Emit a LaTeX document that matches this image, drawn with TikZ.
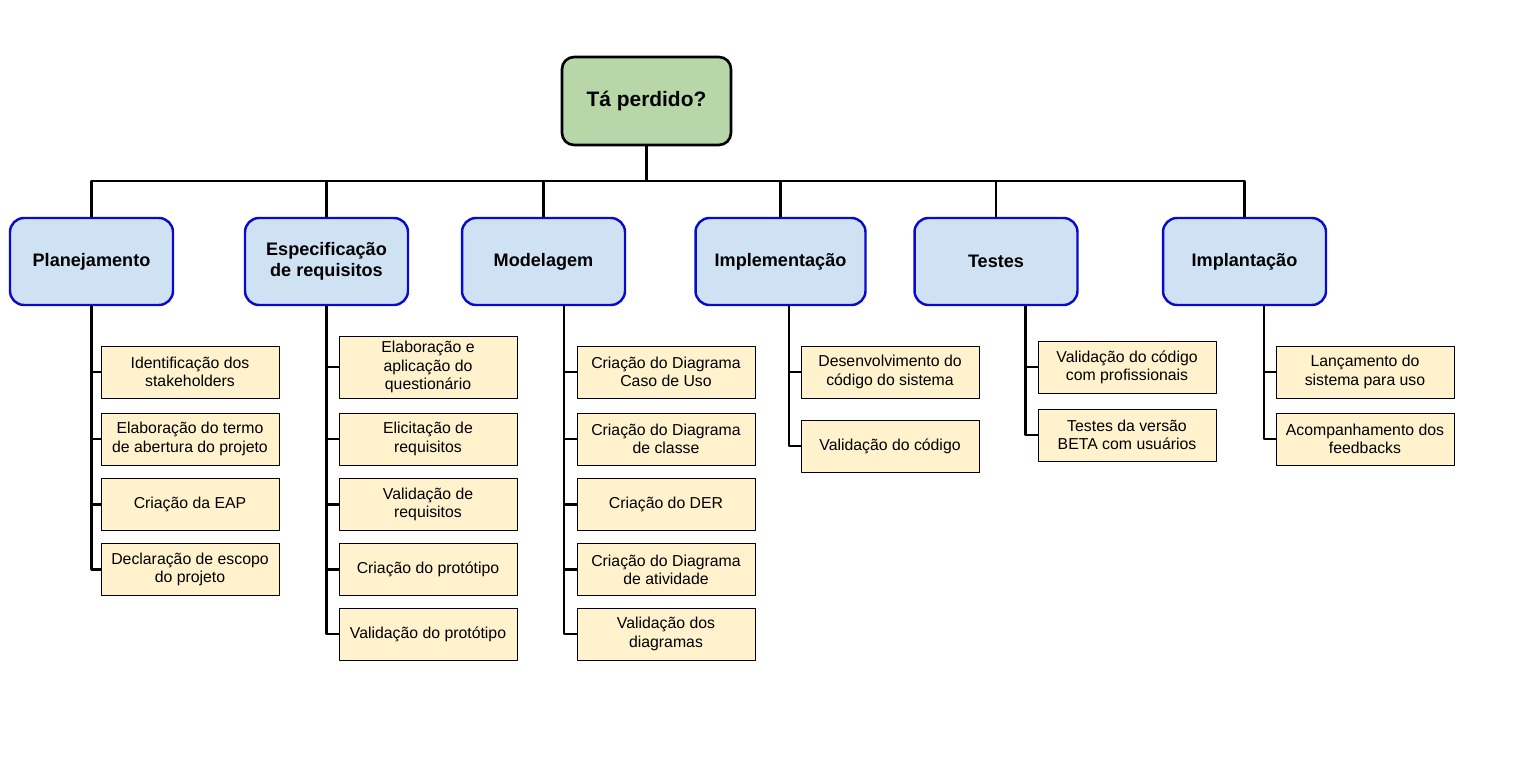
\documentclass[tikz,border=0pt]{standalone}
\usepackage{fontspec}
\setmainfont{Liberation Sans}
\definecolor{rootgreen}{HTML}{B7D7A8}
\definecolor{phasefill}{HTML}{CFE2F3}
\definecolor{phaseline}{HTML}{0A0ACC}
\definecolor{taskfill}{HTML}{FFF2CC}
\tikzset{
	rootbox/.style={draw, line width=1.5pt, rounded corners=.24cm, fill=rootgreen, minimum width=3.38cm, minimum height=1.76cm, font=\bfseries\fontsize{11.9}{14}\selectfont},
	phasebox/.style={draw=phaseline, line width=1.4pt, rounded corners=.28cm, fill=phasefill, minimum width=3.26cm, minimum height=1.74cm, align=center, font=\bfseries\fontsize{10.3}{11.6}\selectfont},
	taskbox/.style={draw, line width=.5pt, fill=taskfill, minimum width=3.56cm, minimum height=1.04cm, inner sep=1pt, align=center, font=\fontsize{9}{10.4}\selectfont},
	link/.style={line width=1.2pt},
	spine/.style={line width=1.5pt},
}
\begin{document}
\begin{tikzpicture}[x=.02cm, y=-.02cm, line join=round]
	\useasboundingbox (0,0) rectangle (1518,760);
	\node[rootbox] (root) at (646.5,101) {Tá perdido?};
	% fases
	\node[phasebox] (plan) at (91.5,261.5) {Planejamento};
	\node[phasebox] (espec) at (326.5,261.5) {Especificação\\de requisitos};
	\node[phasebox] (model) at (543.5,261.5) {Modelagem};
	\node[phasebox, minimum width=3.4cm] (impl) at (780.5,261.5) {Implementação};
	\node[phasebox] (test) at (996,261.5) {Testes};
	\node[phasebox] (impt) at (1244.5,261.5) {Implantação};
	\coordinate (bus) at (646.5,181);
	\draw[spine] (root) -- (bus);
	\foreach \p in {plan,espec,model,impl,test,impt} \draw[link] (bus) -| (\p.north);
	% atividades
	\foreach \n/\y/\t in {plan1/372/{Identificação dos\\stakeholders}, plan2/439/{Elaboração do termo\\de abertura do projeto}, plan3/504.5/{Criação da EAP}, plan4/569.5/{Declaração de escopo\\do projeto}}
		\node[taskbox] (\n) at (190,\y) {\t};
	\foreach \n/\y/\t in {espec2/439/{Elicitação de\\requisitos}, espec3/504.5/{Validação de\\requisitos}, espec4/569.5/{Criação do protótipo}, espec5/634/{Validação do protótipo}}
		\node[taskbox] (\n) at (428,\y) {\t};
	\node[taskbox, minimum height=1.24cm] (espec1) at (428,367) {Elaboração e\\aplicação do\\questionário};
	\foreach \n/\y/\t in {model1/372/{Criação do Diagrama\\Caso de Uso}, model2/439/{Criação do Diagrama\\de classe}, model3/504.5/{Criação do DER}, model4/569.5/{Criação do Diagrama\\de atividade}, model5/634/{Validação dos\\diagramas}}
		\node[taskbox] (\n) at (666,\y) {\t};
	\foreach \n/\y/\t in {impl1/372/{Desenvolvimento do\\código do sistema}, impl2/446/{Validação do código}}
		\node[taskbox] (\n) at (890,\y) {\t};
	\foreach \n/\y/\t in {test1/367/{Validação do código\\com profissionais}, test2/435/{Testes da versão\\BETA com usuários}}
		\node[taskbox] (\n) at (1127,\y) {\t};
	\foreach \n/\y/\t in {impt1/372/{Lançamento do\\sistema para uso}, impt2/439/{Acompanhamento dos\\feedbacks}}
		\node[taskbox] (\n) at (1365,\y) {\t};
	% ramos
	\coordinate (plansp) at (plan.south);
	\coordinate (especsp) at (espec.south);
	\coordinate (modelsp) at ([xshift=.41cm]model.south);
	\coordinate (implsp) at ([xshift=.17cm]impl.south);
	\coordinate (testsp) at ([xshift=.59cm]test.south);
	\coordinate (imptsp) at ([xshift=.39cm]impt.south);
	\foreach \p/\k in {plan/4,espec/5,model/5,impl/2,test/2,impt/2}
		\foreach \i in {1,...,\k} \draw[spine] (\p sp) |- (\p\i.west);
\end{tikzpicture}
\end{document}
